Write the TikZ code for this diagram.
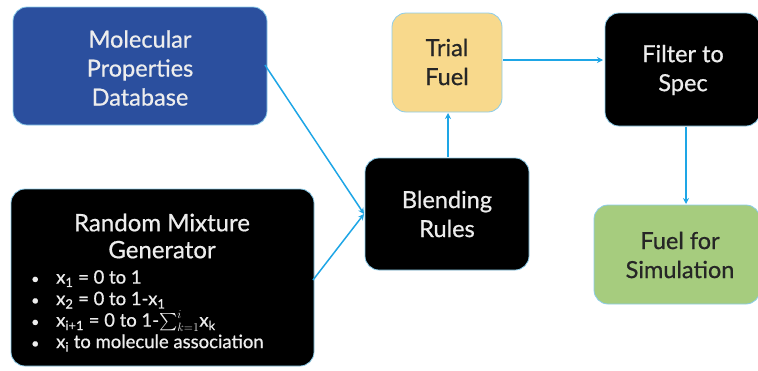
\documentclass[tikz,border=0pt]{standalone}
\usepackage{amsmath}
\usepackage{fontspec}
\setmainfont{Lato}
\newfontfamily\lbfont{Lato}[FakeBold=0.7]
\usetikzlibrary{arrows.meta}
\definecolor{dbblue}{HTML}{2B4F9E}
\definecolor{trialyellow}{HTML}{F8D98C}
\definecolor{simgreen}{HTML}{A6CC7E}
\definecolor{conn}{HTML}{1EA6E6}
\definecolor{edgeblue}{HTML}{8CCDEB}
\definecolor{lighttext}{HTML}{EDEDED}
\newcommand{\bul}{\makebox[25pt][l]{\fontsize{14}{14}\selectfont•}}
\begin{document}
\begin{tikzpicture}[x=1pt,y=-1pt,
  box/.style={rounded corners=14pt, draw=edgeblue, line width=0.8pt},
  darkbox/.style={box, fill=black, text=lighttext},
  lbl/.style={align=center, font=\lbfont\fontsize{23.5}{29}\selectfont},
  conn/.style={draw=conn, line width=1.5pt, -{Stealth[length=6pt,width=6pt]}}
]
\useasboundingbox (0,0) rectangle (758,370);
% boxes
\path[box, fill=dbblue] (13,7) rectangle (267,125);
\node[coordinate] (dbE) at (265,65) {};
\node[lbl, text=lighttext] (db) at (140,68) {Molecular\\Properties\\Database};

\path[darkbox] (11,189) rectangle (314,366);
\node[lbl, text=lighttext, font=\lbfont\fontsize{24}{27}\selectfont] (rmg) at (162,236) {Random Mixture\\Generator};
\node[anchor=north west, text=lighttext, align=left, font=\lbfont\fontsize{18.5}{21.5}\selectfont, inner sep=0pt] (bul) at (31,270)
 {\bul x\textsubscript{1} = 0 to 1\\
  \bul x\textsubscript{2} = 0 to 1-x\textsubscript{1}\\
  \bul x\textsubscript{i+1} = 0 to 1-$\textstyle\sum_{k=1}^{i}$x\textsubscript{k}\\
  \bul x\textsubscript{i} to molecule association};
\node[coordinate] (rmgE) at (313,280) {};

\path[darkbox] (365,158) rectangle (529,270);
\node[lbl, text=lighttext] (blend) at (447,214) {Blending\\Rules};
\node[coordinate] (blendW) at (364,214) {};
\node[coordinate] (blendN) at (448,157) {};

\path[box, fill=trialyellow] (392,13) rectangle (502,112);
\node[lbl, text=black!85] (trial) at (447,62) {Trial\\Fuel};
\node[coordinate] (trialS) at (448,113) {};
\node[coordinate] (trialE) at (503,60) {};

\path[darkbox] (605,13) rectangle (760,126);
\node[lbl, text=lighttext] (filter) at (683,70) {Filter to\\Spec};
\node[coordinate] (filterW) at (603,60) {};
\node[coordinate] (filterS) at (686,127) {};

\path[box, fill=simgreen] (594,205) rectangle (760,304);
\node[lbl, text=black!85] (sim) at (680,255) {Fuel for\\Simulation};
\node[coordinate] (simN) at (686,204) {};

% connectors
\draw[conn] (dbE) -- (blendW);
\draw[conn] (rmgE) -- (blendW);
\draw[conn] (blendN) -- (trialS);
\draw[conn] (trialE) -- (filterW);
\draw[conn] (filterS) -- (simN);
\end{tikzpicture}
\end{document}
